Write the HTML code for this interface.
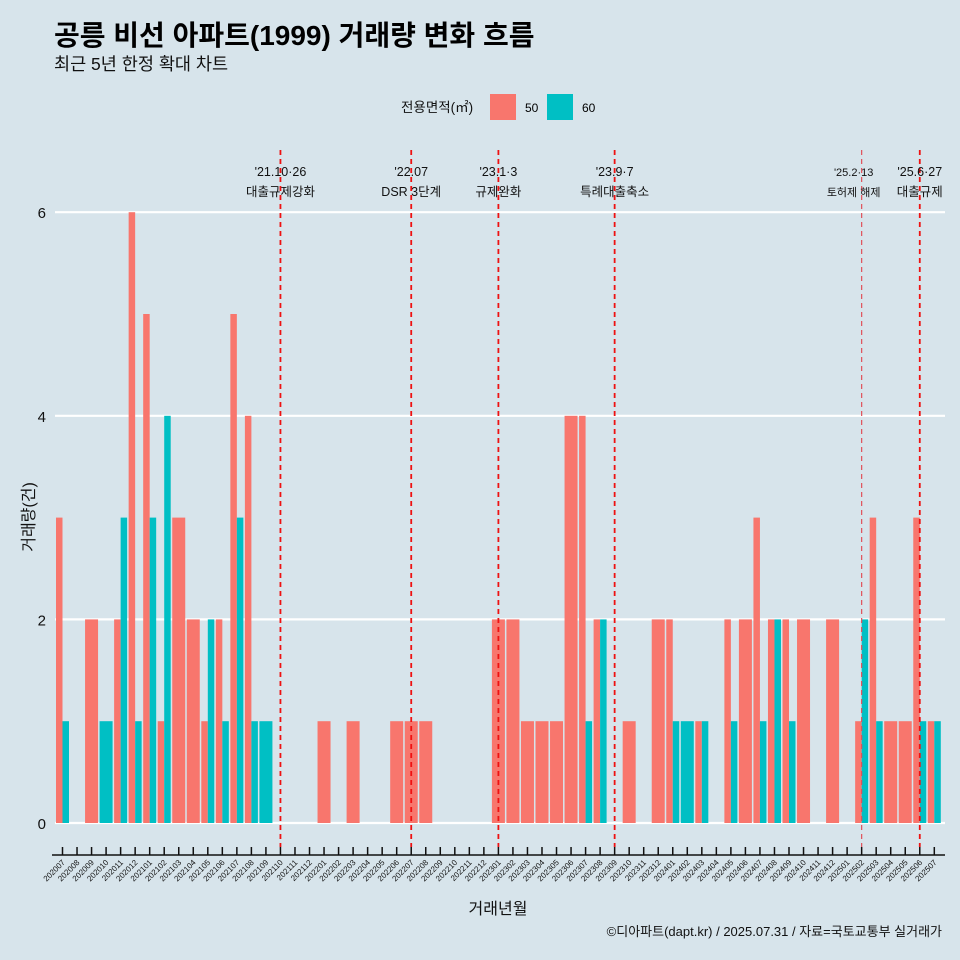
<!DOCTYPE html>
<html><head><meta charset="utf-8"><style>
body{margin:0;background:#d7e4eb;}
svg{display:block;font-family:"Liberation Sans","Noto Sans CJK KR",sans-serif;}
</style></head><body>
<svg id="chart" width="960" height="960" viewBox="0 0 960 960">
<rect width="960" height="960" fill="#d7e4eb"/>
<text x="54" y="45" font-size="28" font-weight="bold" fill="#000">공릉 비선 아파트(1999) 거래량 변화 흐름</text>
<text x="54" y="70" font-size="17.5" fill="#111">최근 5년 한정 확대 차트</text>
<g>
<text x="401" y="112" font-size="13.5" fill="#111">전용면적(㎡)</text>
<rect x="490" y="94" width="26" height="26" fill="#f8766d"/>
<text x="525" y="112" font-size="12">50</text>
<rect x="547" y="94" width="26" height="26" fill="#00bfc4"/>
<text x="582" y="112" font-size="12">60</text>
</g>
<g id="grid"></g><g id="bars"></g><g id="events"></g><g id="axes"></g>
<text x="498" y="914" font-size="16" text-anchor="middle" fill="#111">거래년월</text>
<text x="34" y="517" font-size="16" text-anchor="middle" fill="#111" transform="rotate(-90 34 517)">거래량(건)</text>
<text x="942" y="936" font-size="13" text-anchor="end" fill="#111">©디아파트(dapt.kr) / 2025.07.31 / 자료=국토교통부 실거래가</text>
</svg>
<script>
const months=["202007","202008","202009","202010","202011","202012","202101","202102","202103","202104","202105","202106","202107","202108","202109","202110","202111","202112","202201","202202","202203","202204","202205","202206","202207","202208","202209","202210","202211","202212","202301","202302","202303","202304","202305","202306","202307","202308","202309","202310","202311","202312","202401","202402","202403","202404","202405","202406","202407","202408","202409","202410","202411","202412","202501","202502","202503","202504","202505","202506","202507"];
const s50=[3,0,2,0,2,6,5,1,3,2,1,2,5,4,0,0,0,0,1,0,1,0,0,1,1,1,0,0,0,0,2,2,1,1,1,4,4,2,0,1,0,2,2,0,1,0,2,2,3,2,2,2,0,2,0,1,3,1,1,3,1];
const s60=[1,0,0,1,3,1,3,4,0,0,2,1,3,1,1,0,0,0,0,0,0,0,0,0,0,0,0,0,0,0,0,0,0,0,0,0,1,2,0,0,0,0,1,1,1,0,1,0,1,2,1,0,0,0,0,2,1,0,0,1,1];
const yTicks=[0,2,4,6];
const evMonths=["202110","202207","202301","202309","202502","202506"];
const evDate=["'21.10·26","'22.07","'23.1·3","'23.9·7","'25.2·13","'25.6·27"];
const evText=["대출규제강화","DSR 3단계","규제완화","특례대출축소","토허제 해제","대출규제"];
const NS="http://www.w3.org/2000/svg";
const X0=62.5,STEP=14.53,Y0=823,YU=101.8,BW=13;
const xs=i=>X0+STEP*i, ys=v=>Y0-YU*v;
function mk(t,a,p){const e=document.createElementNS(NS,t);for(const k in a)e.setAttribute(k,a[k]);p.appendChild(e);return e;}
const grid=document.getElementById('grid'),bars=document.getElementById('bars'),ev=document.getElementById('events'),ax=document.getElementById('axes');
yTicks.forEach(t=>{
 const l=mk('line',{x1:55,x2:945,y1:ys(t),y2:ys(t),stroke:'#fff','stroke-width':2.2},grid);
 
 
 const tx=mk('text',{x:46,y:ys(t)+6,'font-size':15,'text-anchor':'end',fill:'#111'},grid);tx.textContent=t;
 
 
});
months.forEach((m,i)=>{
 const a=s50[i],b=s60[i],cx=xs(i);
 if(a>0){const w=b>0?BW/2:BW,x=cx-BW/2;
  const r=mk('rect',{x:x,y:ys(a),width:w,height:YU*a,fill:'#f8766d'},bars);
  
  }
 if(b>0){const w=a>0?BW/2:BW,x=a>0?cx:cx-BW/2;
  const r=mk('rect',{x:x,y:ys(b),width:w,height:YU*b,fill:'#00bfc4'},bars);
  
  }
 const tk=mk('line',{x1:cx,x2:cx,y1:847,y2:855,stroke:'#111','stroke-width':1.5},ax);
 
 
 const lb=mk('text',{x:cx+3,y:863,'font-size':8,'text-anchor':'end',fill:'#111',transform:`rotate(-45 ${cx+3} 863)`},ax);lb.textContent=m;
 
 
});
const axl=mk('line',{x1:52,x2:945,y1:855,y2:855,stroke:'#111','stroke-width':1.5},ax);


evMonths.forEach((m,k)=>{
 const i=months.indexOf(m),x=xs(i),thin=(m==="202502");
 const l=mk('line',{x1:x,x2:x,y1:150,y2:847,stroke:thin?'#e0505a':'#ee1111','stroke-width':thin?1.2:1.8,'stroke-dasharray':'5,4'},ev);
 
 
 const fs=thin?11:12.5;
 const t1=mk('text',{x:x+(thin?-8:0),y:176,'font-size':fs,'text-anchor':'middle',fill:'#111'},ev);t1.textContent=evDate[k];
 
 
 const t2=mk('text',{x:x+(thin?-8:0),y:196,'font-size':fs,'text-anchor':'middle',fill:'#111'},ev);t2.textContent=evText[k];
 
 
});
</script>
</body></html>
